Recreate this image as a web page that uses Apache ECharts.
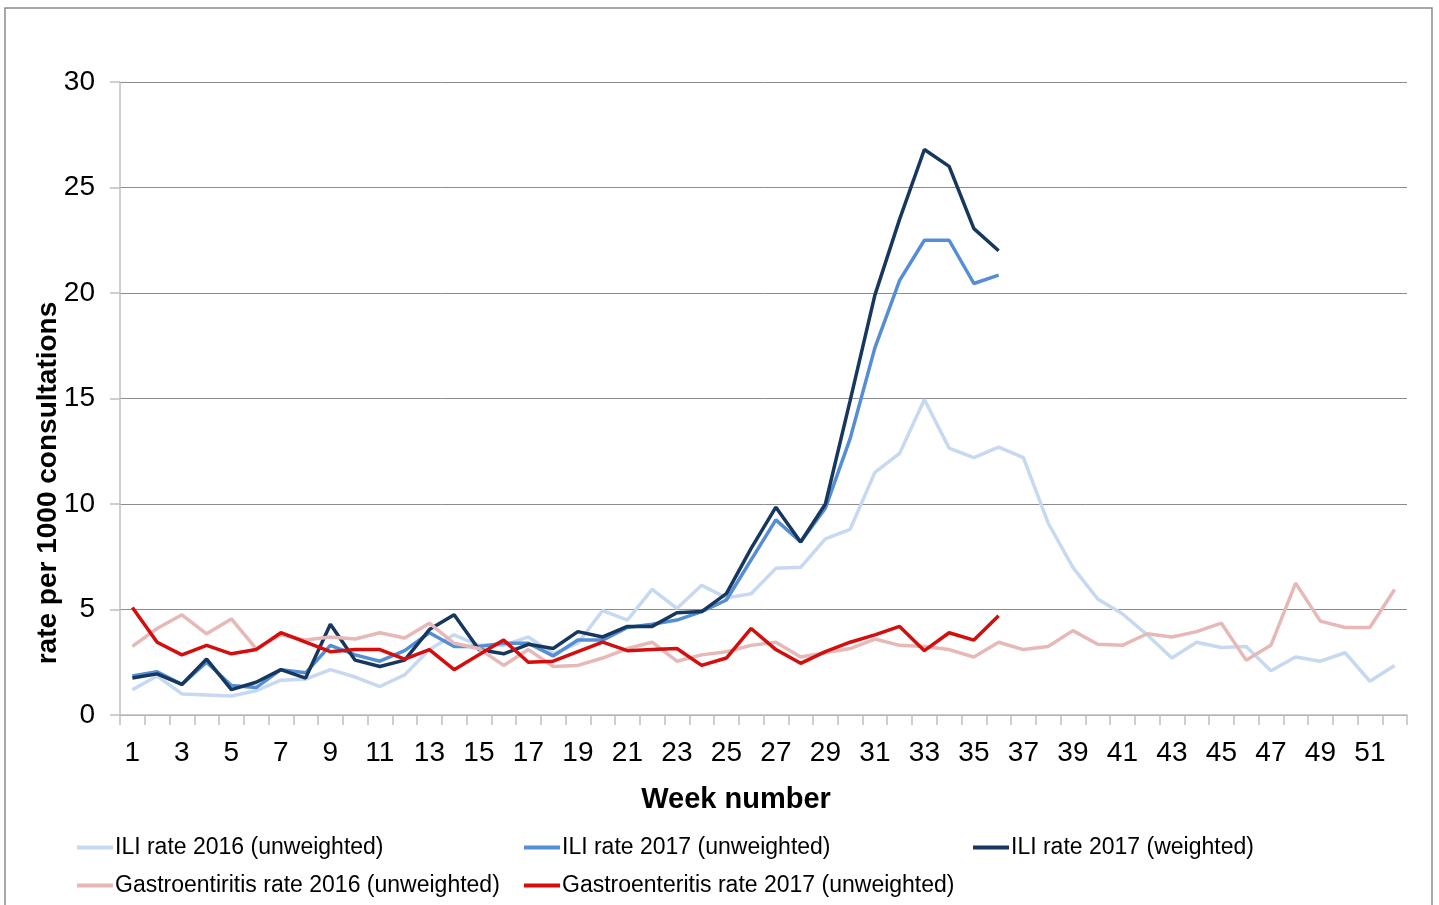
<!DOCTYPE html>
<html>
<head>
<meta charset="utf-8">
<script src="https://cdn.jsdelivr.net/npm/echarts@6/dist/echarts.min.js"></script>
<style>
  html, body { margin: 0; padding: 0; background: #fff; }
  #chart { width: 1439px; height: 905px; }
</style>
</head>
<body>
<div id="chart"></div>
<script>
// week numbers 1..52
var weeks = [];
for (var i = 1; i <= 52; i++) weeks.push(String(i));

var legendNames = [
  'ILI rate 2016 (unweighted)',
  'ILI rate 2017 (unweighted)',
  'ILI rate 2017 (weighted)',
  'Gastroentiritis rate 2016 (unweighted)',
  'Gastroenteritis rate 2017 (unweighted)'
];

var ili2016 = [1.2, 1.85, 1.0, 0.95, 0.9, 1.15, 1.65, 1.7, 2.15, 1.8, 1.35, 1.9, 3.1, 3.8, 3.3, 3.3, 3.7, 2.9, 3.4, 4.95,
  4.5, 5.95, 5.05, 6.15, 5.55, 5.75, 6.95, 7.0, 8.35, 8.8, 11.5, 12.4, 14.95, 12.65, 12.2, 12.7, 12.2, 9.1, 7.0, 5.5,
  4.8, 3.8, 2.7, 3.45, 3.2, 3.25, 2.1, 2.75, 2.55, 2.95, 1.6, 2.35];

var ili2017u = [1.85, 2.05, 1.45, 2.5, 1.4, 1.3, 2.15, 2.0, 3.3, 2.85, 2.55, 3.05, 3.9, 3.25, 3.25, 3.4, 3.4, 2.8, 3.55, 3.55,
  4.15, 4.3, 4.5, 4.9, 5.45, 7.35, 9.25, 8.2, 9.8, 13.1, 17.4, 20.6, 22.5, 22.5, 20.45, 20.85];

var ili2017w = [1.75, 1.95, 1.45, 2.65, 1.2, 1.55, 2.15, 1.75, 4.3, 2.6, 2.3, 2.6, 4.05, 4.75, 3.1, 2.9, 3.35, 3.15, 3.95, 3.7,
  4.2, 4.2, 4.85, 4.9, 5.75, 7.9, 9.85, 8.2, 10.0, 14.9, 19.9, 23.5, 26.8, 26.0, 23.05, 22.0];

var gastro2016 = [3.25, 4.1, 4.75, 3.85, 4.55, 3.15, 3.8, 3.55, 3.7, 3.6, 3.9, 3.65, 4.35, 3.4, 3.15, 2.35, 3.1, 2.3, 2.35, 2.7,
  3.15, 3.45, 2.55, 2.85, 3.0, 3.3, 3.45, 2.75, 2.95, 3.15, 3.6, 3.3, 3.25, 3.1, 2.75, 3.45, 3.1, 3.25, 4.0, 3.35,
  3.3, 3.85, 3.7, 3.95, 4.35, 2.6, 3.3, 6.25, 4.45, 4.15, 4.15, 5.95];

var gastro2017 = [5.1, 3.45, 2.85, 3.3, 2.9, 3.1, 3.9, 3.45, 3.0, 3.1, 3.1, 2.65, 3.1, 2.15, 2.85, 3.55, 2.5, 2.55, 3.0, 3.45,
  3.05, 3.1, 3.15, 2.35, 2.7, 4.1, 3.1, 2.45, 3.0, 3.45, 3.8, 4.2, 3.05, 3.9, 3.55, 4.7];

var colors = ['#c6d9f1', '#558ed5', '#17375e', '#e6b9b8', '#d40d0d'];
var seriesData = [ili2016, ili2017u, ili2017w, gastro2016, gastro2017];

var FONT = '"Liberation Sans Narrow", "Liberation Sans", Arial, sans-serif';

var chart = echarts.init(document.getElementById('chart'));

// legend positions: two rows, three columns
var legendPos = [
  { left: 77, top: 836 },
  { left: 524, top: 836 },
  { left: 973, top: 836 },
  { left: 77, top: 874 },
  { left: 524, top: 874 }
];

var legends = legendPos.map(function (p, i) {
  return {
    left: p.left,
    top: p.top,
    padding: 0,
    icon: 'rect',
    itemWidth: 36,
    itemHeight: 4,
    itemGap: 0,
    textStyle: { fontFamily: FONT, fontSize: 23, color: '#000', padding: [0, 0, 0, -3] },
    data: [legendNames[i]]
  };
});

var series = seriesData.map(function (d, i) {
  return {
    name: legendNames[i],
    type: 'line',
    symbol: 'none',
    smooth: false,
    lineStyle: { width: 3.5, color: colors[i] },
    itemStyle: { color: colors[i] },
    data: d
  };
});

chart.setOption({
  animation: false,
  backgroundColor: '#fff',
  textStyle: { fontFamily: FONT },
  grid: {
    left: 120,
    right: 32,
    top: 82,
    bottom: 190
  },
  legend: legends,
  xAxis: {
    type: 'category',
    data: weeks,
    boundaryGap: true,
    axisLine: { lineStyle: { color: '#bfbfbf', width: 1.5 } },
    axisTick: { show: true, interval: 0, length: 10, lineStyle: { color: '#bfbfbf', width: 1.5 } },
    axisLabel: { interval: 1, fontFamily: FONT, fontSize: 28, color: '#000', margin: 24 }
  },
  yAxis: {
    type: 'value',
    min: 0,
    max: 30,
    interval: 5,
    axisLine: { show: true, lineStyle: { color: '#bfbfbf', width: 1.5 } },
    axisTick: { show: true, length: 10, lineStyle: { color: '#bfbfbf', width: 1.5 } },
    axisLabel: { fontFamily: FONT, fontSize: 28, color: '#000', margin: 25 },
    splitLine: { lineStyle: { color: '#8c8c8c', width: 1 } }
  },
  graphic: [
    {
      type: 'rect',
      shape: { x: 5, y: 8, width: 1427, height: 930 },
      style: { fill: 'none', stroke: '#8c8c8c', lineWidth: 1.5 }
    },
    {
      type: 'text',
      x: 48,
      y: 483,
      rotation: Math.PI / 2,
      style: {
        text: 'rate per 1000 consultations',
        font: 'bold 28px ' + FONT,
        fill: '#000',
        align: 'center',
        verticalAlign: 'middle'
      }
    },
    {
      type: 'text',
      x: 736,
      y: 800,
      style: {
        text: 'Week number',
        font: 'bold 29px ' + FONT,
        fill: '#000',
        align: 'center',
        verticalAlign: 'middle'
      }
    }
  ],
  series: series
});
</script>
</body>
</html>
